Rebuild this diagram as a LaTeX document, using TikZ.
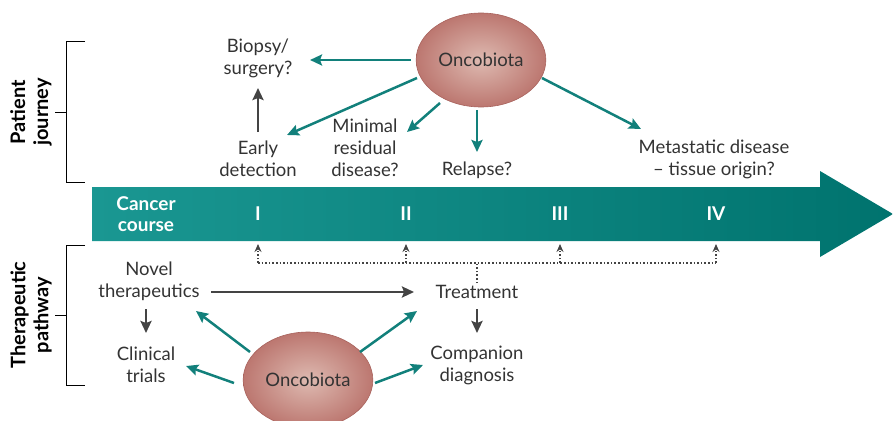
\documentclass[tikz,border=0pt]{standalone}
\usepackage{fontspec}
\setmainfont{Lato}
\usetikzlibrary{arrows.meta,shapes.geometric,calc}
\definecolor{tealA}{HTML}{12807B}
\definecolor{bandL}{HTML}{1A9792}
\definecolor{bandR}{HTML}{00736E}
\definecolor{txt}{HTML}{333333}
\definecolor{grayA}{HTML}{444444}
\definecolor{ellIn}{HTML}{DEBAB1}
\definecolor{ellOut}{HTML}{BC7770}
\definecolor{ellBd}{HTML}{A8625C}
\begin{document}
\begin{tikzpicture}[x=1pt,y=-1pt,
  lbl/.style={font=\fontsize{18.5}{22}\selectfont, text=txt, align=center, inner sep=2pt},
  hdr/.style={font=\fontsize{20}{23}\selectfont\bfseries, align=center, rotate=90, inner sep=0pt},
  onco/.style={ellipse, draw=ellBd, line width=0.6pt, inner color=ellIn, outer color=ellOut, minimum width=120pt, minimum height=94pt, font=\fontsize{18.5}{22}\selectfont, text=txt},
  tarr/.style={draw=tealA, line width=2.5pt, -{Stealth[length=12pt,width=11pt,inset=2pt]}},
  garr/.style={draw=grayA, line width=2.5pt, -{Stealth[length=12pt,width=11pt,inset=2pt]}},
  dline/.style={draw=grayA, line width=1.6pt, dotted},
  darr/.style={dline, -{Stealth[length=8pt,width=7pt]}},
  brk/.style={draw=black, line width=1pt},
  stg/.style={font=\fontsize{19}{21}\selectfont\bfseries, text=white, inner sep=0pt, align=center}
]
\useasboundingbox (0,0) rectangle (893,420);
\clip (0,0) rectangle (893,420);

% band arrow
\shade[left color=bandL, right color=bandR] (92,187) -- (820,187) -- (820,171) -- (893,214) -- (820,257) -- (820,241) -- (92,241) -- cycle;
\node[stg] (cc) at (146,214) {Cancer\\course};
\node[stg] (sI) at (258,214) {I};
\node[stg] (sII) at (406,214) {II};
\node[stg] (sIII) at (560,214) {III};
\node[stg] (sIV) at (716,214) {IV};
\coordinate (bandbot) at (0,244);
\coordinate (dl) at (0,263);

% brackets
\draw[brk] (85,42) -- (66,42) -- (66,182) -- (85,182);
\draw[brk] (55,112) -- (66,112);
\draw[brk] (85,245) -- (66,245) -- (66,385) -- (85,385);
\draw[brk] (55,315) -- (66,315);
\node[hdr] (pj) at (31,112) {Patient\\journey};
\node[hdr] (tp) at (31,315) {Therapeutic\\pathway};

% top part
\node[onco] (onc1) at (481,60) {Oncobiota};
\node[lbl] (biopsy) at (258,58) {Biopsy/\\surgery?};
\node[lbl] (early) at (258,159) {Early\\detection};
\node[lbl] (minimal) at (365,148) {Minimal\\residual\\disease?};
\node[lbl] (relapse) at (477,170) {Relapse?};
\node[lbl] (meta) at (714,159) {Metastatic disease\\– tissue origin?};

\draw[tarr] ($(onc1.center)+(-70,0)$) -- ($(biopsy.center)+(52,2)$);
\draw[tarr] ($(onc1.center)+(-64,18)$) -- ($(early.center)+(29,-24)$);
\draw[tarr] ($(onc1.center)+(-41,43)$) -- ($(minimal.center)+(42,-16)$);
\draw[tarr] ($(onc1.center)+(-4,50)$) -- ($(relapse.center)+(0,-18)$);
\draw[tarr] ($(onc1.center)+(61,18)$) -- ($(meta.center)+(-73,-30)$);
\draw[garr] ($(early.center)+(0,-27)$) -- ($(biopsy.center)+(0,30)$);

% bottom part
\node[onco, minimum width=126pt, minimum height=96pt] (onc2) at (308,380) {Oncobiota};
\node[lbl] (novel) at (149,281) {Novel\\therapeutics};
\node[lbl] (clinical) at (146,365) {Clinical\\trials};
\node[lbl] (treat) at (477,292) {Treatment};
\node[lbl] (comp) at (477,365) {Companion\\diagnosis};

\draw[garr] ($(novel.center)+(62,11)$) -- ($(treat.center)+(-63,0)$);
\draw[garr] ($(novel.center)+(-3,28)$) -- ($(clinical.center)+(0,-32)$);
\draw[garr] ($(treat.center)+(0,17)$) -- ($(comp.center)+(0,-32)$);
\draw[tarr] ($(onc2.center)+(-58,-28)$) -- ($(novel.center)+(47,30)$);
\draw[tarr] ($(onc2.center)+(-74,3)$) -- ($(clinical.center)+(40,1)$);
\draw[tarr] ($(onc2.center)+(52,-28)$) -- ($(treat.center)+(-60,19)$);
\draw[tarr] ($(onc2.center)+(67,3)$) -- ($(comp.center)+(-54,0)$);

% dotted links
\draw[dline] (treat.north) -- (treat.north |- dl);
\draw[dline] (sI |- dl) -- (sIV |- dl);
\draw[darr] (sI |- dl) -- (sI |- bandbot);
\draw[darr] (sII |- dl) -- (sII |- bandbot);
\draw[darr] (sIII |- dl) -- (sIII |- bandbot);
\draw[darr] (sIV |- dl) -- (sIV |- bandbot);
\end{tikzpicture}
\end{document}
